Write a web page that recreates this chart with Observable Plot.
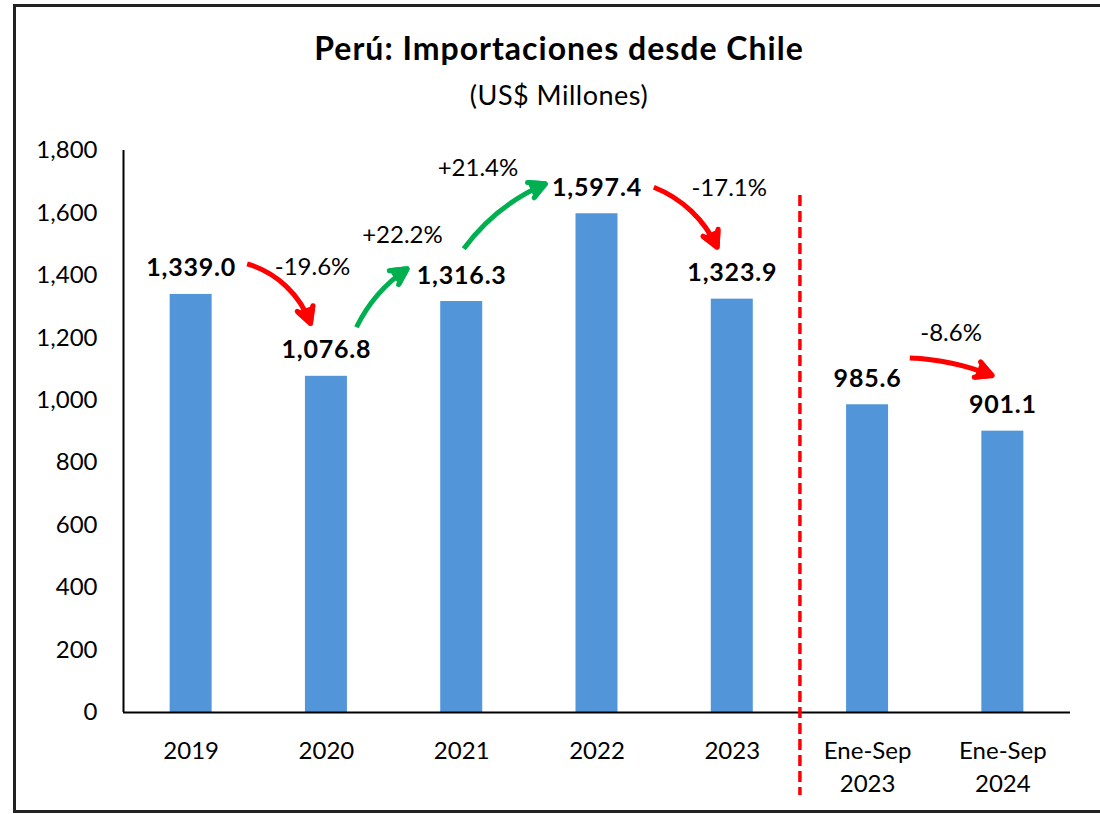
<!DOCTYPE html>
<html>
<head>
<meta charset="utf-8">
<script src="https://cdn.jsdelivr.net/npm/d3@7"></script>
<script src="https://cdn.jsdelivr.net/npm/@observablehq/plot@0.6"></script>
<style>
  html, body { margin: 0; padding: 0; background: #fff; overflow: hidden; }
  #wrap { position: relative; width: 1100px; height: 814px; overflow: hidden; font-family: Lato, sans-serif; color: #000; }
  #frame { position: absolute; left: 13px; top: 4px; width: 1100px; height: 809px; border: 3px solid #222; box-sizing: border-box; }
  #title { position: absolute; left: 0; width: 1118px; top: 32px; text-align: center; font-weight: 700; font-size: 32px; line-height: 1; letter-spacing: 1px; }
  #subtitle { position: absolute; left: 0; width: 1118px; top: 81px; text-align: center; font-weight: 400; font-size: 27px; line-height: 1; letter-spacing: 0.5px; }
  #chart { position: absolute; left: 0; top: 120px; }
</style>
</head>
<body>
<div id="wrap">
  <div id="frame"></div>
  <div id="title">Perú: Importaciones desde Chile</div>
  <div id="subtitle">(US$ Millones)</div>
  <div id="chart"></div>
</div>
<script>
// ---- data ----
const categories = ["2019", "2020", "2021", "2022", "2023", "Ene-Sep 2023", "Ene-Sep 2024"];
const values = [1339.0, 1076.8, 1316.3, 1597.4, 1323.9, 985.6, 901.1];
const yTicks = [0, 200, 400, 600, 800, 1000, 1200, 1400, 1600, 1800];
const changeFrom = [0, 1, 2, 3, 5];
const changeTo = [1, 2, 3, 4, 6];
const changeLabels = ["-19.6%", "+22.2%", "+21.4%", "-17.1%", "-8.6%"];
const dividerBetween = [4, 5];

// ---- layout (annotation offsets, in data units, and styles) ----
const barColor = "#5296D9";
const red = "#FF0000";
const green = "#00B050";
const arrowLayout = [
  {sx: 0.414, sy: 98,  ex: -0.118, ey: 169, bend: 27, fillInset: 78},
  {sx: 0.222, sy: 157, ex: -0.403, ey: 105, bend: 15, fillInset: 70},
  {sx: 0.015, sy: 169, ex: -0.381, ey: 96,  bend: 15, fillInset: 96},
  {sx: 0.420, sy: 85,  ex: -0.112, ey: 166, bend: 22, fillInset: 79},
  {sx: 0.312, sy: 150, ex: -0.079, ey: 178, bend: 10, fillInset: 76}
];
const labelLayout = [
  {dx: -0.103, dy: 348},
  {dx: -0.438, dy: 211},
  {dx: -0.880, dy: 145},
  {dx: -0.023, dy: 354},
  {dx: -0.383, dy: 314}
];

const bars = categories.map((c, i) => ({i, cat: c, value: values[i]}));
const changes = changeLabels.map((label, k) => ({
  k, label, from: changeFrom[k], to: changeTo[k],
  v0: values[changeFrom[k]], v1: values[changeTo[k]]
}));
const xDomain = [-0.5, categories.length - 0.5];
const fmtValue = d3.format(",.1f");

const arrowMarks = changes.flatMap((c) => {
  const L = arrowLayout[c.k];
  const color = c.v1 < c.v0 ? red : green;
  const geom = {
    x1: () => c.from + L.sx, y1: () => c.v0 + L.sy,
    x2: () => c.to + L.ex, y2: () => c.v1 + L.ey
  };
  return [
    Plot.arrow([c], {...geom, stroke: color, strokeWidth: 5, bend: L.bend, headLength: 5.4, headAngle: 55, strokeLinecap: "butt"}),
    Plot.arrow([c], {...geom, stroke: color, fill: color, strokeWidth: 5, bend: L.bend, headLength: 5.4, headAngle: 55, insetStart: L.fillInset})
  ];
});

const plot = Plot.plot({
  width: 1100,
  height: 694,
  marginLeft: 123,
  marginRight: 30,
  marginTop: 30,
  marginBottom: 102,
  x: {domain: xDomain},
  y: {domain: [0, 1800]},
  style: {fontFamily: "Lato, sans-serif", fontSize: "24px", color: "#000", background: "transparent", overflow: "visible"},
  marks: [
    Plot.rectY(bars, {x1: "i", x2: "i", y: "value", insetLeft: -21, insetRight: -21, fill: barColor}),
    Plot.axisY(yTicks, {tickSize: 0, tickPadding: 26, tickFormat: d3.format(","), fontSize: 24, label: null}),
    Plot.axisX(bars.map((d) => d.i), {
      tickSize: 0, tickPadding: 23, fontSize: 24, lineHeight: 1.375, label: null,
      tickFormat: (i) => categories[i].includes(" ") ? categories[i].replace(" ", "\n") : categories[i] + "\n"
    }),
    Plot.ruleY([0], {stroke: "#000", strokeWidth: 2}),
    Plot.ruleX([xDomain[0]], {stroke: "#000", strokeWidth: 2}),
    Plot.ruleX([d3.mean(dividerBetween)], {stroke: red, strokeWidth: 3.5, strokeDasharray: "11,5", insetTop: 45, insetBottom: -83}),
    Plot.text(bars, {x: "i", y: "value", text: (d) => fmtValue(d.value), dy: -26, fontWeight: "bold", fontSize: 25, fill: "#000"}),
    Plot.text(changes, {
      x: (c) => c.to + labelLayout[c.k].dx,
      y: (c) => c.v1 + labelLayout[c.k].dy,
      text: "label", fontSize: 24, fill: "#000"
    }),
    ...arrowMarks
  ]
});
d3.select(plot).selectAll('g[font-weight="bold"]').attr("letter-spacing", "0.8px");
document.getElementById("chart").appendChild(plot);
</script>
</body>
</html>
